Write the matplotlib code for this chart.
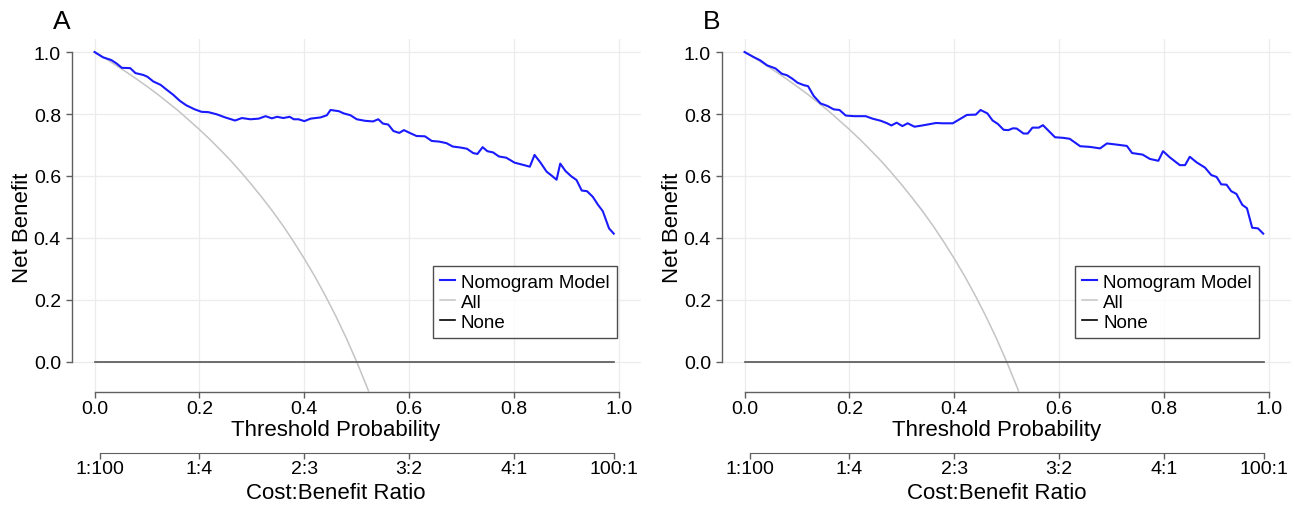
import numpy as np
import matplotlib
matplotlib.use("Agg")
import matplotlib.pyplot as plt
import matplotlib.transforms as mtransforms

plt.rcParams['font.family'] = ['Liberation Sans', 'DejaVu Sans']

# ---- data ----
thr_a = [0.000, 0.016, 0.032, 0.042, 0.052, 0.068, 0.078, 0.093, 0.101, 0.112,
         0.126, 0.137, 0.150, 0.163, 0.175, 0.191, 0.204, 0.217, 0.233, 0.249,
         0.268, 0.281, 0.297, 0.313, 0.326, 0.338, 0.348, 0.360, 0.372, 0.380,
         0.389, 0.400, 0.412, 0.431, 0.443, 0.450, 0.466, 0.475, 0.488, 0.500,
         0.516, 0.531, 0.541, 0.550, 0.560, 0.570, 0.581, 0.590, 0.601, 0.614,
         0.630, 0.643, 0.657, 0.671, 0.683, 0.697, 0.710, 0.722, 0.730, 0.740,
         0.749, 0.760, 0.771, 0.785, 0.801, 0.817, 0.830, 0.839, 0.850, 0.862,
         0.871, 0.881, 0.888, 0.898, 0.909, 0.919, 0.929, 0.939, 0.950, 0.960,
         0.969, 0.981, 0.990]
nb_a = [1.000, 0.983, 0.974, 0.963, 0.949, 0.948, 0.932, 0.926, 0.920, 0.905,
        0.894, 0.879, 0.862, 0.842, 0.828, 0.815, 0.807, 0.806, 0.799, 0.789,
        0.779, 0.787, 0.783, 0.785, 0.793, 0.786, 0.791, 0.787, 0.791, 0.783,
        0.783, 0.777, 0.785, 0.789, 0.796, 0.813, 0.809, 0.802, 0.796, 0.783,
        0.778, 0.776, 0.783, 0.769, 0.766, 0.745, 0.739, 0.748, 0.739, 0.729,
        0.728, 0.713, 0.711, 0.706, 0.695, 0.692, 0.688, 0.674, 0.671, 0.693,
        0.680, 0.676, 0.663, 0.659, 0.643, 0.636, 0.630, 0.668, 0.644, 0.614,
        0.602, 0.588, 0.640, 0.616, 0.599, 0.587, 0.553, 0.551, 0.533, 0.507,
        0.487, 0.431, 0.414]

thr_b = [0.000, 0.017, 0.030, 0.043, 0.059, 0.071, 0.081, 0.091, 0.101, 0.113,
         0.121, 0.132, 0.145, 0.158, 0.170, 0.181, 0.193, 0.209, 0.231, 0.244,
         0.260, 0.272, 0.280, 0.290, 0.301, 0.311, 0.324, 0.339, 0.352, 0.365,
         0.378, 0.397, 0.413, 0.424, 0.441, 0.450, 0.463, 0.473, 0.483, 0.494,
         0.503, 0.512, 0.519, 0.532, 0.540, 0.549, 0.561, 0.569, 0.582, 0.592,
         0.608, 0.620, 0.640, 0.658, 0.678, 0.691, 0.706, 0.729, 0.739, 0.759,
         0.773, 0.789, 0.798, 0.811, 0.830, 0.840, 0.849, 0.862, 0.878, 0.890,
         0.900, 0.909, 0.919, 0.928, 0.938, 0.949, 0.958, 0.968, 0.979, 0.989]
nb_b = [1.000, 0.984, 0.973, 0.957, 0.947, 0.930, 0.925, 0.914, 0.901, 0.893,
        0.890, 0.858, 0.834, 0.826, 0.815, 0.813, 0.795, 0.793, 0.793, 0.785,
        0.778, 0.770, 0.763, 0.772, 0.761, 0.770, 0.759, 0.763, 0.767, 0.771,
        0.770, 0.770, 0.786, 0.797, 0.798, 0.813, 0.802, 0.779, 0.768, 0.749,
        0.748, 0.754, 0.753, 0.737, 0.737, 0.756, 0.756, 0.764, 0.742, 0.725,
        0.723, 0.720, 0.696, 0.694, 0.689, 0.705, 0.702, 0.697, 0.674, 0.669,
        0.655, 0.649, 0.680, 0.660, 0.635, 0.635, 0.662, 0.644, 0.627, 0.603,
        0.597, 0.573, 0.572, 0.551, 0.542, 0.507, 0.496, 0.433, 0.431, 0.414]

# treat-all strategy (same in both panels)
thr_all = [0.00, 0.02, 0.04, 0.06, 0.08, 0.10, 0.12, 0.14, 0.16, 0.18, 0.20,
           0.22, 0.24, 0.26, 0.28, 0.30, 0.32, 0.34, 0.36, 0.38, 0.40, 0.42,
           0.44, 0.46, 0.48, 0.50, 0.52, 0.54]
nb_all = [1.000, 0.980, 0.958, 0.936, 0.913, 0.889, 0.864, 0.837, 0.810, 0.780,
          0.750, 0.718, 0.684, 0.649, 0.611, 0.571, 0.529, 0.485, 0.438, 0.387,
          0.333, 0.276, 0.214, 0.148, 0.077, 0.000, -0.083, -0.174]

thr_none = [0.0, 0.99]
nb_none = [0.0, 0.0]

x_ticks = [0.0, 0.2, 0.4, 0.6, 0.8, 1.0]
y_ticks = [0.0, 0.2, 0.4, 0.6, 0.8, 1.0]
ratio_pos = [1 / 101, 0.2, 0.4, 0.6, 0.8, 100 / 101]
ratio_labels = ['1:100', '1:4', '2:3', '3:2', '4:1', '100:1']

panels = [
    ('A', thr_a, nb_a, 72, 0.958, 0.46),
    ('B', thr_b, nb_b, 722, 0.944, 0.48),
]

W, H = 1295, 506
fig = plt.figure(figsize=(W / 100, H / 100), dpi=100)

ax_w = 569 / W
ax_b = (H - 393) / H
ax_h = (393 - 40) / H
spine_col = '#606060'

for tag, thr, nb, left_px, leg_right, lab_x in panels:
    ax = fig.add_axes([left_px / W, ax_b, ax_w, ax_h])
    ax.set_xlim(-0.043, 1.042)
    ax.set_ylim(-0.097, 1.042)

    ax.grid(True, color='#ececec', linewidth=0.9)
    ax.set_axisbelow(True)

    ax.plot(thr, nb, color='#1a1aff', linewidth=1.5, label='Nomogram Model', zorder=4)
    ax.plot(thr_all, nb_all, color='#c4c4c4', linewidth=1.1, label='All', zorder=3)
    ax.plot(thr_none, nb_none, color='#555555', linewidth=1.2, label='None', zorder=3)

    for s in ['top', 'right']:
        ax.spines[s].set_visible(False)
    ax.spines['left'].set_bounds(0, 1)
    ax.spines['bottom'].set_bounds(0, 1)
    for s in ['left', 'bottom']:
        ax.spines[s].set_color(spine_col)
        ax.spines[s].set_linewidth(1.0)

    ax.set_xticks(x_ticks)
    ax.set_xticklabels([f'{v:.1f}' for v in x_ticks])
    ax.set_yticks(y_ticks)
    ax.set_yticklabels([f'{v:.1f}' for v in y_ticks])
    ax.tick_params(axis='both', labelsize=14, color=spine_col, length=4, width=1.0)
    ax.tick_params(axis='x', pad=2)
    ax.tick_params(axis='y', pad=4)

    # cost:benefit ratio axis below
    sec = ax.secondary_xaxis(-0.173)
    sec.set_xticks(ratio_pos)
    sec.set_xticklabels(ratio_labels)
    sec.tick_params(labelsize=14, color=spine_col, length=4, width=1.0, pad=1)
    sec.spines['bottom'].set_bounds(ratio_pos[0], ratio_pos[-1])
    sec.spines['bottom'].set_color(spine_col)

    trans = mtransforms.blended_transform_factory(ax.transData, ax.transAxes)
    ax.text(lab_x, -0.107, 'Threshold Probability', transform=trans,
            ha='center', va='center', fontsize=16)
    ax.text(lab_x, -0.285, 'Cost:Benefit Ratio', transform=trans,
            ha='center', va='center', fontsize=16)

    ax.set_ylabel('Net Benefit', fontsize=16)
    ax.yaxis.set_label_coords(-0.068, 0.467)

    leg = ax.legend(loc='upper right', bbox_to_anchor=(leg_right, 0.356),
                    fontsize=13.5, frameon=True, fancybox=False,
                    handlelength=0.8, handletextpad=0.3, labelspacing=0.15,
                    borderpad=0.4, borderaxespad=0)
    leg.get_frame().set_edgecolor('#222222')
    leg.get_frame().set_linewidth(1.0)
    leg.legend_handles[2].set_color('black')

    fig.text((left_px - 10) / W, 1 - 22 / H, tag, fontsize=19,
             ha='center', va='center')

fig.savefig('out.png', dpi=100, facecolor='white')
